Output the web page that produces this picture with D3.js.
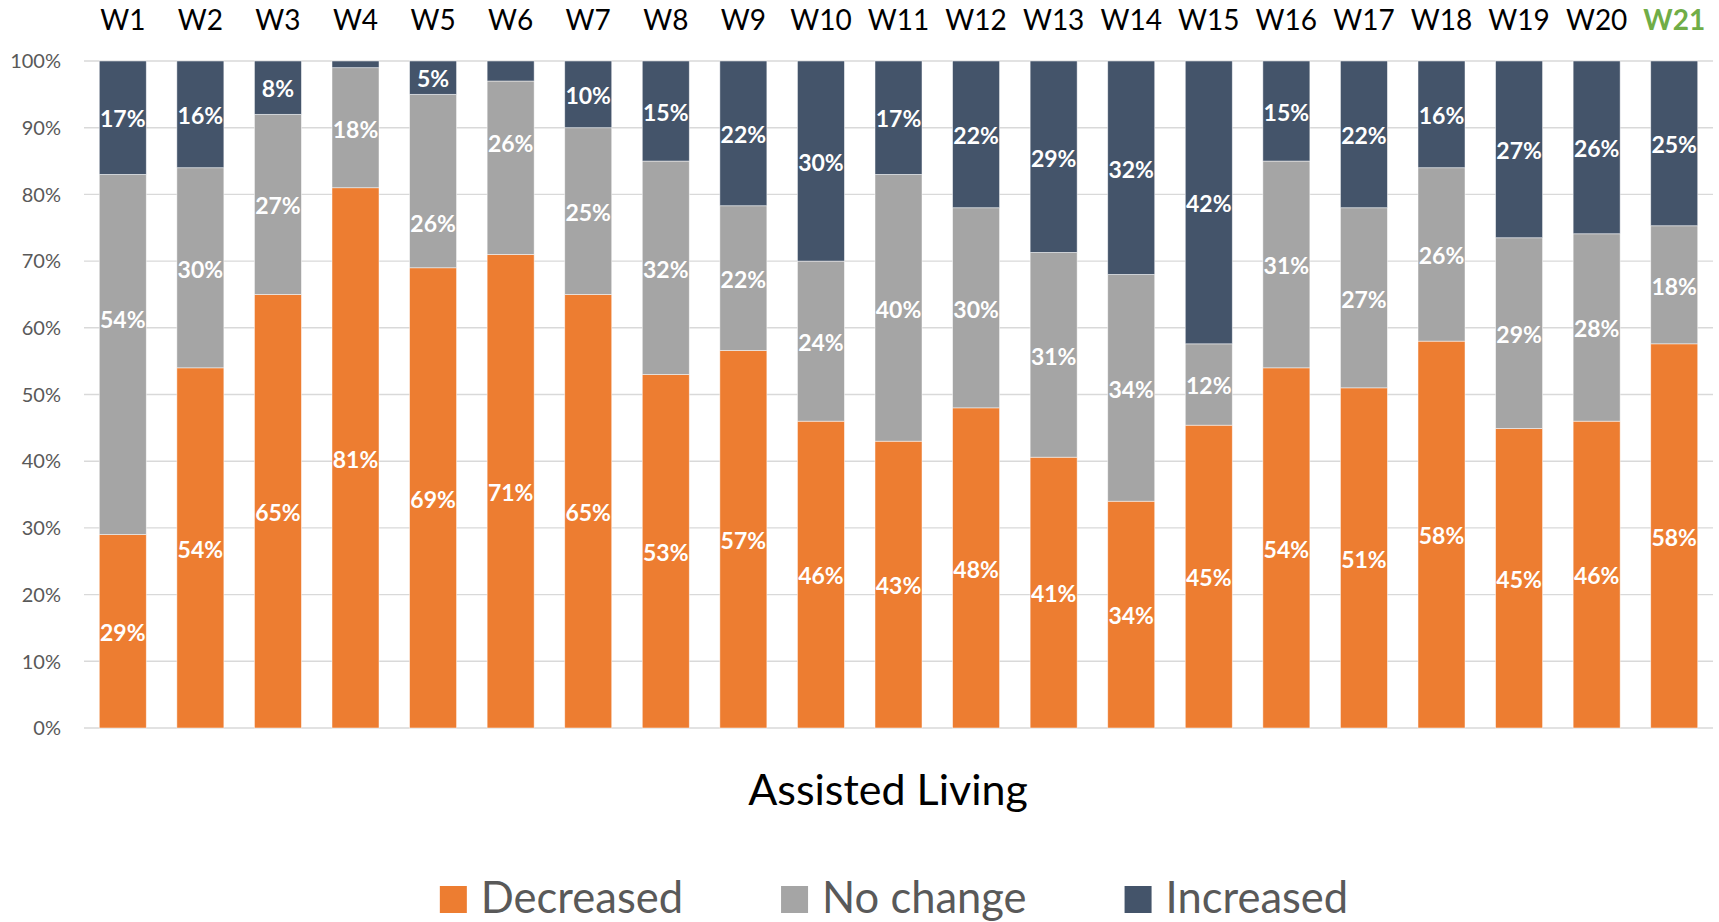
<!DOCTYPE html>
<html>
<head>
<meta charset="utf-8">
<script src="https://cdn.jsdelivr.net/npm/d3@7"></script>
<style>
  html, body { margin: 0; padding: 0; background: #fff; }
  svg { display: block; font-family: Lato, "Open Sans", sans-serif; }
</style>
</head>
<body>
<svg id="chart" width="1719" height="922"></svg>
<script>
// weeks along the x axis
const weeks = ["W1","W2","W3","W4","W5","W6","W7","W8","W9","W10","W11","W12","W13","W14","W15","W16","W17","W18","W19","W20","W21"];

// share of facilities per week (percent)
const decreased = [29, 54, 65, 81, 69, 71, 65, 53, 56.6, 46, 43, 48, 40.6, 34, 45.4, 54, 51, 58, 44.9, 46, 57.6];
const noChange  = [54, 30, 27, 18, 26, 26, 25, 32, 21.7, 24, 40, 30, 30.7, 34, 12.2, 31, 27, 26, 28.6, 28.1, 17.7];
const increased = [17, 16,  8,  1,  5,  3, 10, 15, 21.7, 30, 17, 22, 28.7, 32, 42.4, 15, 22, 16, 26.5, 25.9, 24.7];

const seriesNames = ["Decreased", "No change", "Increased"];
const seriesColors = ["#ED7D31", "#A5A5A5", "#44546A"];
const yTicks = [0, 10, 20, 30, 40, 50, 60, 70, 80, 90, 100];
const chartTitle = "Assisted Living";
const highlightWeek = "W21";

(function() {
const svg = d3.select("#chart");
const plotLeft = 84, plotRight = 1713, plotTop = 61, plotBottom = 728;

// a few labels were dragged by hand in the original (shift in % units)
const labelNudge = { "W1|No change": 5.4, "W5|No change": -6.2, "W6|No change": 3.8 };

// build rows for the stack
const rows = weeks.map((w, i) => ({
  week: w,
  "Decreased": decreased[i],
  "No change": noChange[i],
  "Increased": increased[i]
}));

const layers = d3.stack().keys(seriesNames)(rows);

const x = d3.scaleBand()
  .domain(weeks)
  .range([plotLeft, plotRight])
  .paddingInner(0.394)
  .paddingOuter(0.197);

const y = d3.scaleLinear().domain([0, 100]).range([plotBottom, plotTop]);

const color = d3.scaleOrdinal().domain(seriesNames).range(seriesColors);

// gridlines
svg.append("g")
  .selectAll("line")
  .data(yTicks)
  .join("line")
  .attr("x1", plotLeft)
  .attr("x2", plotRight)
  .attr("y1", d => y(d))
  .attr("y2", d => y(d))
  .attr("stroke", "#D9D9D9")
  .attr("stroke-width", 1.4);

// y tick labels
svg.append("g")
  .selectAll("text")
  .data(yTicks)
  .join("text")
  .attr("x", 61)
  .attr("y", d => y(d) + 7.2)
  .attr("text-anchor", "end")
  .attr("font-size", 20)
  .attr("fill", "#595959")
  .text(d => d + "%");

// bars
const layerG = svg.append("g")
  .selectAll("g")
  .data(layers)
  .join("g")
  .attr("fill", d => color(d.key));

layerG.selectAll("rect")
  .data(d => d)
  .join("rect")
  .attr("x", d => x(d.data.week))
  .attr("width", x.bandwidth())
  .attr("y", d => y(d[1]))
  .attr("height", d => y(d[0]) - y(d[1]))
  .attr("stroke", "#fff")
  .attr("stroke-opacity", 0.6)
  .attr("stroke-width", 0.8);

// data labels
const fmt = v => Math.round(v) + "%";
svg.append("g")
  .selectAll("g")
  .data(layers)
  .join("g")
  .each(function(layer) {
    d3.select(this)
      .selectAll("text")
      .data(layer.filter(p => p[1] - p[0] >= 4))
      .join("text")
      .attr("x", d => x(d.data.week) + x.bandwidth() / 2)
      .attr("y", d => y((d[0] + d[1]) / 2 + (labelNudge[d.data.week + "|" + layer.key] || 0)) + 9.8)
      .attr("text-anchor", "middle")
      .attr("font-size", 23)
      .attr("font-weight", "bold")
      .attr("fill", "#fff")
      .text(d => fmt(d[1] - d[0]));
  });

// week labels on top
svg.append("g")
  .selectAll("text")
  .data(weeks)
  .join("text")
  .attr("x", d => x(d) + x.bandwidth() / 2)
  .attr("y", 30)
  .attr("text-anchor", "middle")
  .attr("font-size", 28)
  .attr("font-weight", d => d === highlightWeek ? "bold" : "normal")
  .attr("fill", d => d === highlightWeek ? "#70AD47" : "#000")
  .text(d => d);

// title under the plot
svg.append("text")
  .attr("x", 888)
  .attr("y", 805)
  .attr("text-anchor", "middle")
  .attr("font-size", 43)
  .attr("fill", "#000")
  .text(chartTitle);

// legend, centred
const legend = svg.append("g");
const sq = 27, pad = 14, gap = 98;
const items = legend.selectAll("g")
  .data(seriesNames)
  .join("g");
items.append("rect")
  .attr("width", sq)
  .attr("height", sq)
  .attr("y", 886)
  .attr("fill", d => color(d));
items.append("text")
  .attr("x", sq + pad)
  .attr("y", 913)
  .attr("font-size", 43.5)
  .attr("fill", "#595959")
  .text(d => d);

let widths = [];
items.each(function() {
  widths.push(sq + pad + d3.select(this).select("text").node().getComputedTextLength());
});
const total = d3.sum(widths) + gap * (widths.length - 1);
let cx = 894 - total / 2;
items.attr("transform", (d, i) => {
  const t = "translate(" + cx + ",0)";
  cx += widths[i] + gap;
  return t;
});
})();
</script>
</body>
</html>
